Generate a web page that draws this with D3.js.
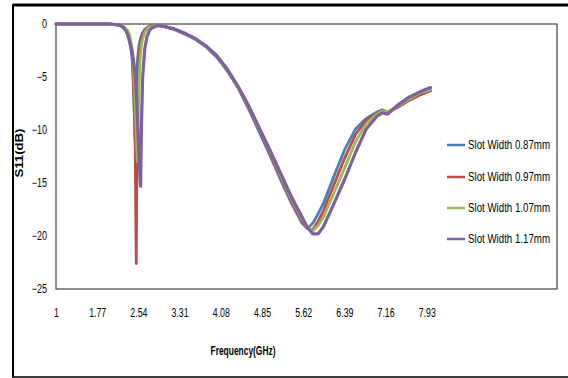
<!DOCTYPE html>
<html><head><meta charset="utf-8">
<script src="https://cdn.jsdelivr.net/npm/d3@7"></script>
<style>
html,body{margin:0;padding:0;background:#fff;}
text{font-family:"Liberation Sans",Arial,sans-serif;}
</style></head>
<body>
<svg id="chart" width="568" height="378"></svg>
<script>
// ---- data ----
const freq = [1.0,1.5,2.0,2.1,2.2,2.25,2.3,2.34,2.38,2.42,2.44,2.46,2.48,2.50,2.52,2.54,2.56,2.58,2.60,2.62,2.66,2.70,2.75,2.8,2.9,3.0,3.2,3.4,3.6,3.8,4.0,4.2,4.4,4.6,4.8,5.0,5.2,5.4,5.6,5.7,5.8,5.9,6.0,6.2,6.4,6.6,6.8,7.0,7.1,7.2,7.4,7.6,7.8,8.0];
const s087 = [0,0,0,-0.05,-0.15,-0.3,-0.5,-0.85,-1.6,-3.0,-4.8,-7.8,-11.0,-6.0,-3.6,-2.5,-1.8,-1.35,-1.05,-0.8,-0.5,-0.35,-0.2,-0.15,-0.1,-0.2,-0.5,-0.95,-1.45,-2.15,-3.1,-4.4,-6.0,-8.0,-10.2,-12.4,-14.7,-16.9,-18.8,-19.3,-18.8,-17.9,-16.9,-14.3,-11.8,-9.9,-8.9,-8.3,-8.1,-8.3,-7.8,-7.2,-6.7,-6.3];
const s097 = [0,0,0,-0.05,-0.15,-0.25,-0.45,-0.75,-1.4,-2.8,-4.5,-7.5,-11.5,-22.6,-7.0,-3.8,-2.4,-1.7,-1.3,-1.0,-0.6,-0.4,-0.25,-0.15,-0.1,-0.2,-0.45,-0.9,-1.4,-2.1,-3.05,-4.35,-5.95,-7.9,-10.0,-12.2,-14.5,-16.7,-18.6,-19.3,-19.4,-18.6,-17.6,-15.1,-12.6,-10.4,-9.1,-8.4,-8.2,-8.3,-7.8,-7.2,-6.7,-6.3];
const s107 = [0,0,0,-0.05,-0.1,-0.2,-0.4,-0.6,-1.1,-2.2,-3.3,-5.0,-7.5,-10.5,-13.0,-8.0,-4.5,-2.8,-1.9,-1.4,-0.8,-0.5,-0.3,-0.2,-0.1,-0.2,-0.45,-0.9,-1.4,-2.1,-3.0,-4.3,-5.9,-7.8,-9.9,-12.0,-14.3,-16.5,-18.4,-19.2,-19.5,-19.0,-18.2,-15.9,-13.5,-11.1,-9.4,-8.5,-8.2,-8.3,-7.7,-7.1,-6.5,-6.2];
const s117 = [0,0,0,-0.05,-0.1,-0.3,-0.6,-1.0,-1.8,-2.6,-3.2,-3.9,-4.8,-6.4,-8.6,-11.0,-13.5,-15.3,-9.0,-5.0,-2.3,-1.2,-0.6,-0.35,-0.15,-0.2,-0.45,-0.85,-1.35,-2.05,-2.95,-4.25,-5.85,-7.7,-9.8,-11.9,-14.1,-16.3,-18.2,-19.2,-19.8,-19.8,-19.1,-16.9,-14.6,-12.1,-9.9,-8.7,-8.4,-8.5,-7.6,-6.9,-6.4,-6.0];
const seriesNames = ["Slot Width 0.87mm","Slot Width 0.97mm","Slot Width 1.07mm","Slot Width 1.17mm"];
const seriesColors = ["#4A7EBB","#BE4B48","#98B954","#7D60A0"];
const xTicks = [1,1.77,2.54,3.31,4.08,4.85,5.62,6.39,7.16,7.93];
const yTicks = [0,-5,-10,-15,-20,-25];
const xTitle = "Frequency(GHz)";
const yTitle = "S11(dB)";

// ---- drawing ----
const svg = d3.select("#chart");
const L = 56, R = 557, T = 24, B = 289;
const x = d3.scaleLinear().domain([1, 1 + (R - L) / 53.5]).range([L, R]);
const y = d3.scaleLinear().domain([0, -25]).range([T, B]);

function condense(sel, f) {
  sel.each(function () {
    const w = this.getComputedTextLength();
    d3.select(this).attr("textLength", w * f).attr("lengthAdjust", "spacingAndGlyphs");
  });
}

// outer frame
svg.append("line").attr("x1",13).attr("x2",568).attr("y1",5).attr("y2",5).attr("stroke","#000").attr("stroke-width",3);
svg.append("line").attr("x1",13).attr("x2",13).attr("y1",4).attr("y2",377).attr("stroke","#000").attr("stroke-width",2);
svg.append("line").attr("x1",12).attr("x2",568).attr("y1",377).attr("y2",377).attr("stroke","#000").attr("stroke-width",1.5);

// plot box
svg.append("rect").attr("x",L).attr("y",T).attr("width",R-L).attr("height",B-T)
  .attr("fill","none").attr("stroke","#444").attr("stroke-width",1.2);

// y axis labels
const yAxis = d3.axisLeft(y).tickValues(yTicks).tickSize(0).tickPadding(9).tickFormat(d3.format("d"));
const gy = svg.append("g").attr("transform",`translate(${L},0)`).call(yAxis);
gy.select(".domain").remove();
gy.selectAll("text").attr("font-size",12).attr("fill","#000").style("font-family",'"Liberation Sans",Arial,sans-serif');
condense(gy.selectAll("text"), 0.75);

// x axis labels
const xAxis = d3.axisBottom(x).tickValues(xTicks).tickSize(0).tickPadding(19).tickFormat(d => String(d));
const gx = svg.append("g").attr("transform",`translate(0,${B})`).call(xAxis);
gx.select(".domain").remove();
gx.selectAll("text").attr("font-size",12).attr("fill","#000").style("font-family",'"Liberation Sans",Arial,sans-serif');
condense(gx.selectAll("text"), 0.73);

// titles
svg.append("text").attr("x",243).attr("y",355).attr("text-anchor","middle")
  .attr("font-size",12).attr("font-weight","bold")
  .attr("textLength",65).attr("lengthAdjust","spacingAndGlyphs").text(xTitle);
svg.append("text").attr("transform","translate(23,153) rotate(-90)").attr("text-anchor","middle")
  .attr("font-size",11).attr("font-weight","bold")
  .attr("textLength",49).attr("lengthAdjust","spacingAndGlyphs").text(yTitle);

// lines
const allSeries = [s087, s097, s107, s117];
const line = d3.line().x((d,i) => x(freq[i])).y(d => y(d)).curve(d3.curveLinear);
allSeries.forEach((s,k) => {
  svg.append("path").datum(s).attr("d", line)
    .attr("fill","none").attr("stroke",seriesColors[k])
    .attr("stroke-width", k === 3 ? 3.2 : 2.8)
    .attr("stroke-linejoin","round").attr("stroke-linecap","round");
});

// legend
const legY = [145, 177, 208, 239];
seriesNames.forEach((n,k) => {
  svg.append("line").attr("x1",447).attr("x2",465).attr("y1",legY[k]).attr("y2",legY[k])
    .attr("stroke",seriesColors[k]).attr("stroke-width",2.5);
  svg.append("text").attr("x",468).attr("y",legY[k]).attr("dy","0.35em")
    .attr("font-size",12).attr("fill","#000")
    .attr("textLength",82).attr("lengthAdjust","spacingAndGlyphs").text(n);
});
</script>
</body></html>
